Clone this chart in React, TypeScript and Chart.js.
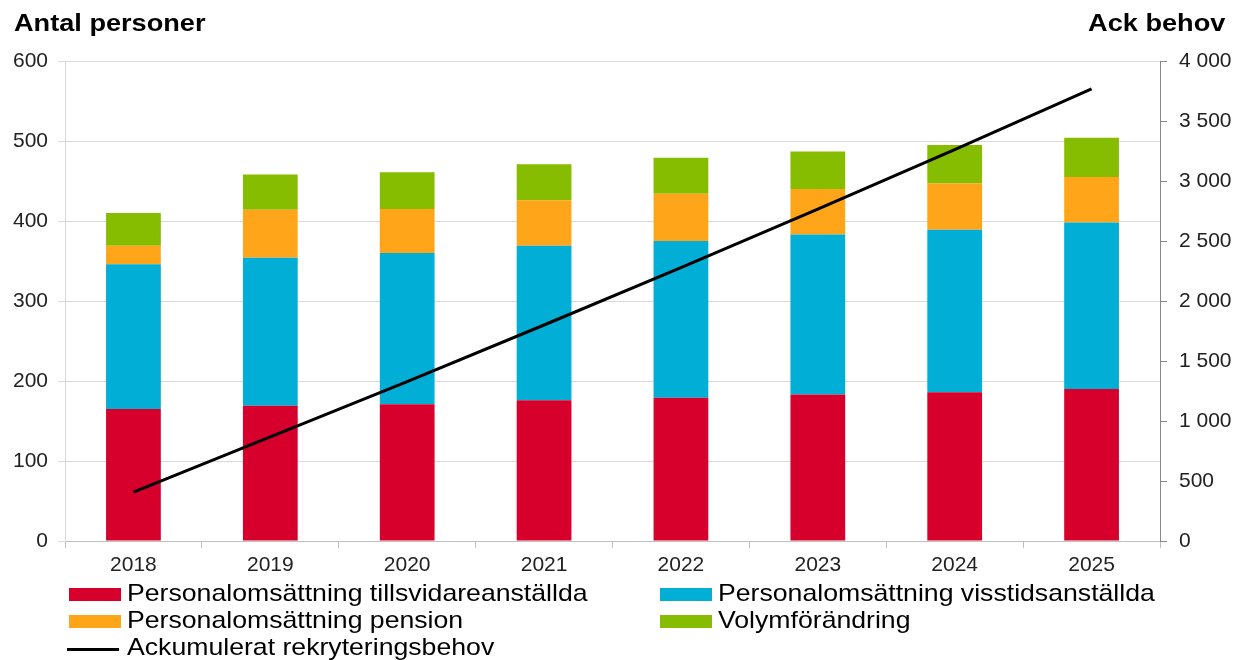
import React, { useEffect, useRef } from "react";
import { Chart, registerables } from "chart.js";

Chart.register(...registerables);

const years = ["2018", "2019", "2020", "2021", "2022", "2023", "2024", "2025"];
const tillsvidare = [165, 169, 171, 176, 179, 183, 186, 190];
const visstid = [181, 185, 189, 193, 196, 200, 203, 208];
const pension = [23, 60, 55, 57, 59, 57, 58, 57];
const volym = [41, 44, 46, 45, 45, 47, 48, 49];
const ackumulerat = [408, 868, 1329, 1800, 2279, 2766, 3261, 3767];

const leftTitle = "Antal personer";
const rightTitle = "Ack behov";
const seriesNames = [
  "Personalomsättning tillsvidareanställda",
  "Personalomsättning visstidsanställda",
  "Personalomsättning pension",
  "Volymförändring",
  "Ackumulerat rekryteringsbehov",
];

const RED = "#d7002c";
const BLUE = "#00aed6";
const ORANGE = "#ffa51a";
const GREEN = "#86bd00";
const FONT = "'Liberation Sans', Arial, sans-serif";
const TXT = "#222";

const fmt = (v: number) =>
  String(v).replace(/\B(?=(\d{3})+(?!\d))/g, " ");

export default function App() {
  const ref = useRef<HTMLCanvasElement | null>(null);

  useEffect(() => {
    if (!ref.current) return;
    const tickFont = { family: FONT, size: 21 };
    const chart = new Chart(ref.current, {
      data: {
        labels: years,
        datasets: [
          { type: "bar", label: seriesNames[0], data: tillsvidare, backgroundColor: RED, yAxisID: "y", order: 1 },
          { type: "bar", label: seriesNames[1], data: visstid, backgroundColor: BLUE, yAxisID: "y", order: 1 },
          { type: "bar", label: seriesNames[2], data: pension, backgroundColor: ORANGE, yAxisID: "y", order: 1 },
          { type: "bar", label: seriesNames[3], data: volym, backgroundColor: GREEN, yAxisID: "y", order: 1 },
          {
            type: "line",
            label: seriesNames[4],
            data: ackumulerat,
            borderColor: "#000",
            borderWidth: 3,
            pointRadius: 0,
            yAxisID: "y1",
            order: 0,
          },
        ],
      } as any,
      options: {
        animation: false,
        responsive: false,
        maintainAspectRatio: false,
        layout: { padding: { left: 0, right: 0, top: 61, bottom: 84 } },
        datasets: { bar: { barPercentage: 1, categoryPercentage: 0.4 } },
        plugins: { legend: { display: false }, tooltip: { enabled: false } },
        scales: {
          x: {
            stacked: true,
            offset: true,
            grid: { offset: true, drawOnChartArea: false, drawTicks: true, tickLength: 7, color: "#bfbfbf" },
            border: { color: "#bfbfbf" },
            ticks: { font: tickFont, color: TXT, padding: 5 },
            afterFit: (s: any) => { s.height = 35; },
          },
          y: {
            stacked: true,
            position: "left",
            min: 0,
            max: 600,
            ticks: { stepSize: 100, font: tickFont, color: TXT, padding: 10 },
            grid: { color: "#d9d9d9", tickLength: 7 },
            border: { color: "#d9d9d9" },
            afterFit: (s: any) => { s.width = 65; },
          },
          y1: {
            position: "right",
            min: 0,
            max: 4000,
            ticks: { stepSize: 500, font: tickFont, color: TXT, padding: 12, callback: (v: any) => fmt(Number(v)) },
            grid: { drawOnChartArea: false, tickLength: 7, color: "#888" },
            border: { color: "#888" },
            afterFit: (s: any) => { s.width = 75; },
          },
        },
      } as any,
    });
    return () => chart.destroy();
  }, []);

  const legendText: React.CSSProperties = {
    position: "absolute",
    fontFamily: FONT,
    fontSize: 24,
    color: "#000",
    lineHeight: "26px",
    whiteSpace: "nowrap",
    transform: "scaleX(1.11)",
    transformOrigin: "left center",
  };
  const titleStyle: React.CSSProperties = {
    position: "absolute",
    top: 12,
    fontFamily: FONT,
    fontWeight: "bold",
    fontSize: 23,
    lineHeight: "22px",
    color: "#000",
    whiteSpace: "nowrap",
    transform: "scaleX(1.18)",
  };
  const sw = (x: number, y: number, c: string, h = 13): React.CSSProperties => ({
    position: "absolute",
    left: x,
    top: Math.round(y - h / 2),
    width: 52,
    height: h,
    background: c,
  });
  const textTops = [580, 607, 634];
  const swY = [594, 621, 649];

  return (
    <div style={{ position: "absolute", left: 0, top: 0, width: 1235, height: 660, background: "#fff", overflow: "hidden" }}>
      <canvas ref={ref} width={1235} height={660} style={{ position: "absolute", left: 0, top: 0 }} />
      <div style={{ ...titleStyle, left: 14, transformOrigin: "left center" }}>{leftTitle}</div>
      <div style={{ ...titleStyle, right: 10, transformOrigin: "right center" }}>{rightTitle}</div>

      <div style={sw(69, swY[0], RED)} />
      <div style={{ ...legendText, left: 127, top: textTops[0] }}>{seriesNames[0]}</div>
      <div style={sw(660, swY[0], BLUE)} />
      <div style={{ ...legendText, left: 718, top: textTops[0] }}>{seriesNames[1]}</div>

      <div style={sw(69, swY[1], ORANGE)} />
      <div style={{ ...legendText, left: 127, top: textTops[1] }}>{seriesNames[2]}</div>
      <div style={sw(660, swY[1], GREEN)} />
      <div style={{ ...legendText, left: 718, top: textTops[1] }}>{seriesNames[3]}</div>

      <div style={sw(67, swY[2], "#000", 3)} />
      <div style={{ ...legendText, left: 127, top: textTops[2] }}>{seriesNames[4]}</div>
    </div>
  );
}
